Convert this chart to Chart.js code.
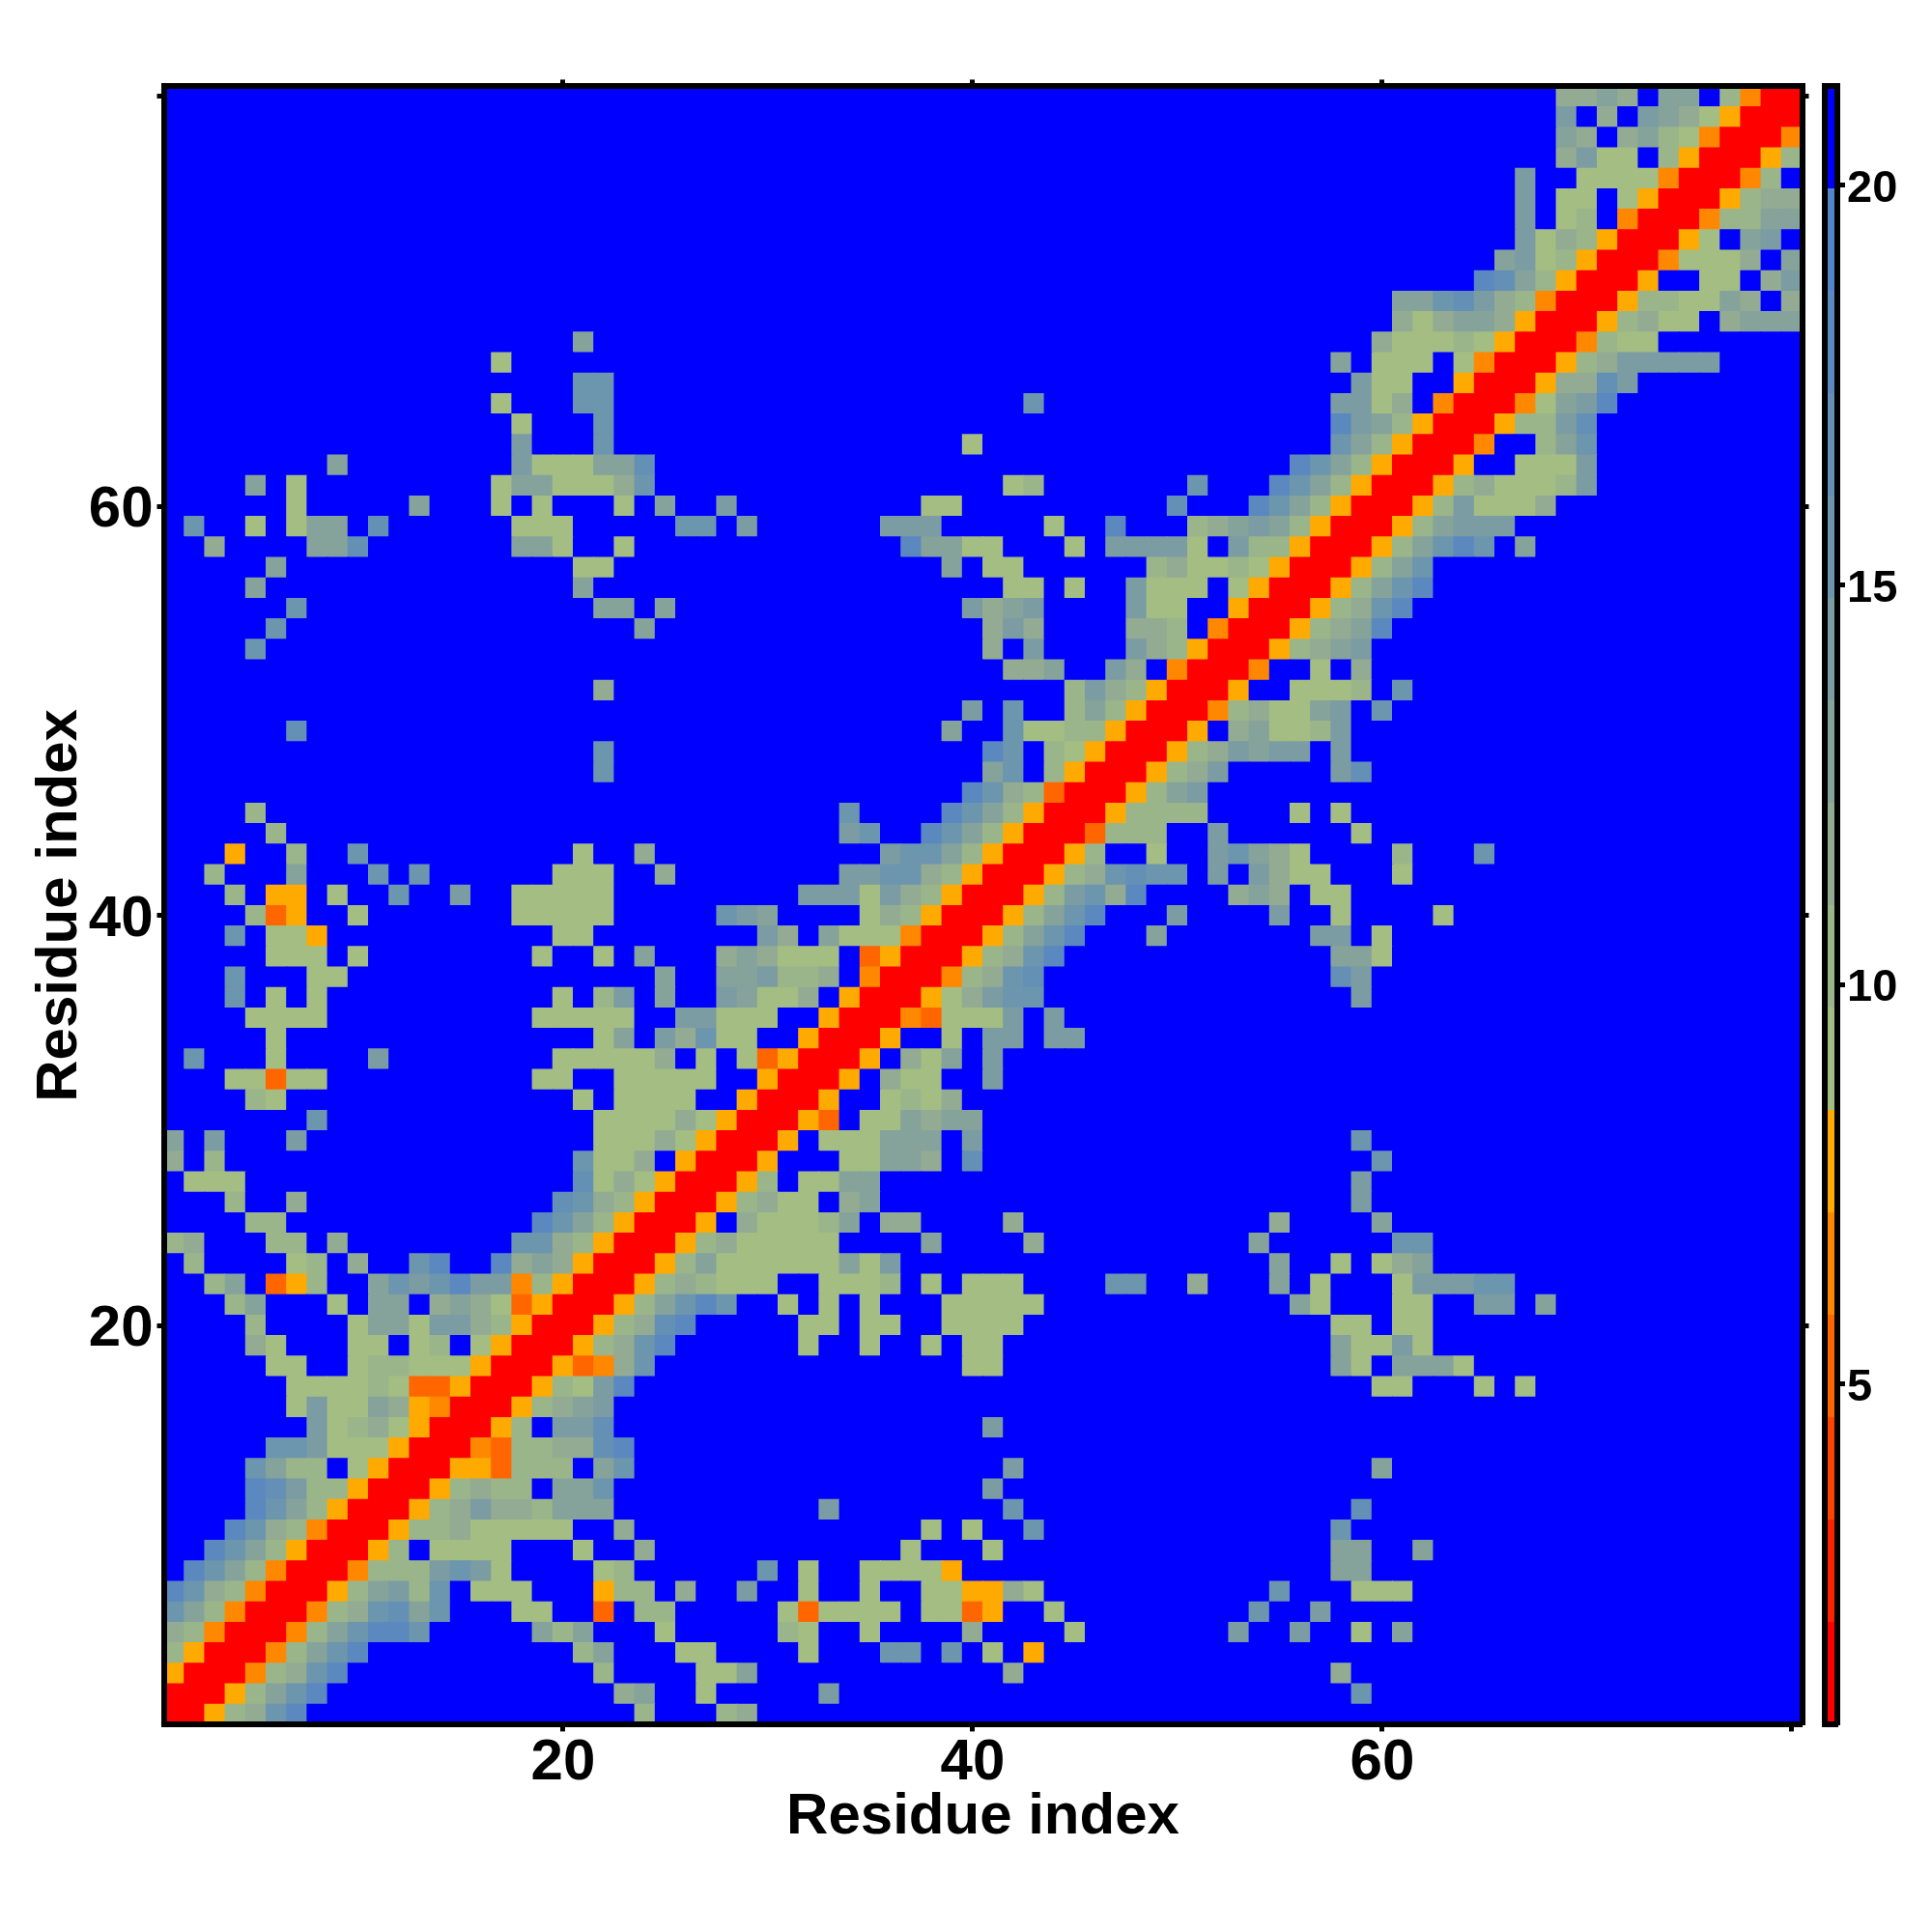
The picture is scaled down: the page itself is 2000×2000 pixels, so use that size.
<!DOCTYPE html>
<html>
<head>
<meta charset="utf-8">
<title>Residue contact map</title>
<script src="https://cdn.jsdelivr.net/npm/chart.js@4/dist/chart.umd.js"></script>
<style>
html,body{margin:0;padding:0;background:#fff;}
#wrap{position:relative;width:2000px;height:2000px;}
canvas{position:absolute;left:0;top:0;}
</style>
</head>
<body>
<div id="wrap"><canvas id="map" width="2000" height="2000"></canvas><canvas id="bar" width="2000" height="2000"></canvas></div>
<script>
// Residue indices on each axis
const residueCount = 80;
// Contact map, one entry per row from residue 80 down to residue 1.
// "col:codes" = codes starting at that column; '.' and unlisted cells are the far (blue) level.
const mapRows = [
"69:3343.44.2oRR",
"69:5.3.5431ORRR",
"69:43.3421oRRRo",
"69:3511.2ORRRO2",
"67:5 70:1111oRRRo2",
"67:5.11.1ORRRO233",
"67:5.12.oRRRo2244",
"67:5132ORRRO1.45",
"66:4512ORRRo1113.4",
"65:8742ORRRO..11.35",
"61:4467532oRRRO221143.3",
"61:313443ORRRO2311.3444",
"21:4 60:311121ORRRo211",
"17:1 58:4.111.1oRRRO2355555",
"21:66 59:511..ORRRO3375",
"17:1 21:66 43:6 58:5513.oRRRo1458",
"18:1 22:6 58:8542ORRRO2257",
"18:5 22:6 40:1 58:642ORRRo..246",
"9:4 18:5111447 56:8642ORRRO..1115",
"5:4.1 17:14411136 42:12 51:6 55:8642ORRRO2311125",
"7:1 13:4 17:1.1 23:1 25:4 28:5 38:11 50:7 54:8642ORRRO251113",
"2:6 5:1 7:144 11:7 18:111 26:66 29:5 36:555 44:1 47:8 51:234542ORRRO24555",
"3:3 8:447 18:441 23:1 37:84411 45:1 47:55551.52 55:2ORRRO24686.4",
"6:4 21:11 39:4.11 49:231121ORRRO246",
"5:4 21:4 42:11.1 48:5111.1ORRRO2468",
"7:6 22:44.4 40:5345 48:511..ORRRO2368",
"6:6 24:4 41:353 48:332.oRRRO2348",
"5:6 41:3.5 48:532ORRRO2345",
"42:334 47:53.oRRRo..1.3",
"22:3 45:2532ORRRO..1112.6",
"40:5.6 45:242ORRRo231145.6",
"7:7 39:4 42:61122ORRRO.341125",
"22:6 41:86.21ORRRO235455.5",
"22:6 41:46.2ORRRO235 58:57",
"40:8632dRRRO245",
"5:2 34:6 39:8642ORRRO2222 56:1.1",
"6:2 34:56 38:8642ORRRd222 52:5 59:1",
"4:O 7:2 10:6 21:1 24:3 36:56642ORRRO2..1..56431 61:2 65:6",
"3:2 7:4 11:6.6 20:111 25:3 34:556632ORRRO236766.5.5311 61:1",
"4:2.OO.1 12:6 15:5 18:11111 32:5551532ORRRO25638 53:343.11",
"5:2dO 10:1 18:11111 28:654 35:132ORRRO2468 50:5 55:5 58:1 63:1",
"4:6.11O 20:11 30:53.4111oRRRO2468 49:4 57:55.1",
"6:111.1 19:1 22:1 24:4 28:343111.dORRRO2368 58:441",
"4:6 8:11 25:4 28:445223.oRRRo2367 58:75",
"4:6.1.1 20:1.25 25:4 28:54113.ORRRO13566 59:5",
"5:1111 19:11111 26:55111..ORRRod1115.5",
"6:1 22:14 25:53611..ORRRO..1.55.55",
"2:6 6:1 11:5 20:111113.1.1dORRRO.314.5",
"4:11d11 19:11..11111..ORRRO.311..5",
"5:21 21:1.1111..ORRRO..1213",
"8:6 22:111131ORRROd.114344",
"1:4.5 7:5 22:11131ORRRO.111444.5 59:6",
"1:3.2 21:6113.ORRRO...11443.7 60:6",
"2:111 21:7131ORRRO2.1144 59:5",
"4:2 7:3 20:7632ORRRO2311.34 59:5",
"5:22 19:8642ORRRO.311124.33 42:3 55:3 60:4",
"1:23 6:22.3 18:6632ORRRO2311111 38:4 43:3 54:4 61:66",
"2:2 7:12.3 13:68 17:8343ORRRO24111111415 55:4 58:1.134",
"3:24.dO2 11:4656855o2ORRRO232111..1112.1.111 47:66 51:3 55:4.1 61:155566",
"4:24 9:1 11:44.3431dORRRO24686 31:1.1.1 39:11111 56:41 61:11 65:55.4",
"5:2 10:14415532ORRRO2378 32:11.11 39:1111 58:11.11",
"5:31 10:11.12.1ORRRO2368 32:1 35:1 38:1.11 58:41151",
"6:11 10:122111ORRROdo36 40:11 58:41.4441",
"7:111121ddORRRO2158 60:11 65:1.1",
"7:151143OoRRRO2345",
"8:51231ORRRO2.557 41:5",
"6:665111ORRRod223378",
"5:6422.1ORRROOd222.46 42:5 60:4",
"5:87522ORRRO2322.446 41:5",
"5:8642ORRRO235332444 33:5 42:6 59:7",
"4:8632oRRRO22311111..3 38:1.1 43:6 58:6",
"3:8642ORRRO2.1111...1..3 37:1 41:1 58:44 62:4",
"2:8642oRRRo2225651....12 30:6.1 35:1111O 58:44",
"1:8632oRRRO24526.111...O22.3 29:5 32:1 35:1 38:11OO31 55:6 59:111",
"1:642oRRRo236746...11..d.22 31:1d1111.11dO 44:1 54:6 57:5",
"1:32oRRRo246886.....424 25:1 31:21 35:1 40:3 45:1 53:5 56:5 59:1.4",
"1:2ORRRo2468 21:24 26:11 32:1 36:66.6.1.O",
"1:ORRRo2368 22:2 27:114 42:3 58:3",
"1:RRRO2468 23:34 27:1 33:5 59:6",
"1:RRO2368 24:2 28:23"
];
const codeDistance = {R:1.4,d:5.2,o:6.5,O:7.8,"1":9.1,"2":10.4,"3":11.6,"4":12.9,"5":14.2,"6":15.5,"7":16.8,"8":18.1,".":20.6};
// Colour key: band colours from low to high and the value range
const bandColors = ["#ff0000","#ff2200","#ff4400","#ff6600","#ff8800","#ffaa00","#a3bd83","#9bb58a","#92ab92","#85a39a","#7b9ca3","#6c95ae","#6590b5","#5a88bf","#5184c9","#0000ff"];
const keyMin = 0.74;
const keyMax = 21.24;
// Tick labels
const xTickValues = [20,40,60,80];
const topTickValues = [20,40,60];
const yTickValues = [20,40,60,80];
const keyTickValues = [5,10,15,20];
const axisTitle = "Residue index";
const fontFamily = "'Liberation Sans', Arial, sans-serif";

function decodeRow(text, rowNumber, out) {
  const cells = new Array(residueCount).fill(codeDistance["."]);
  text.split(" ").forEach(seg => {
    const [start, codes] = seg.split(":");
    [...codes].forEach((c, i) => { cells[Number(start) - 1 + i] = codeDistance[c]; });
  });
  cells.forEach((v, i) => out.push({x: i + 1, y: rowNumber, v}));
}
const cells = [];
mapRows.forEach((t, i) => decodeRow(t, residueCount - i, cells));

const bandWidth = (keyMax - keyMin) / bandColors.length;
function colorFor(v) {
  const k = Math.max(0, Math.min(bandColors.length - 1, Math.floor((v - keyMin) / bandWidth)));
  return bandColors[k];
}
function fixedTicks(values) { return scale => { scale.ticks = values.map(value => ({value})); }; }

// Page layout of the plot frame
const frame = {left:169.5, right:134.5, top:89.4, bottom:214.6};

const gridOpts = {drawOnChartArea:false, color:"#000", tickColor:"#000", tickWidth:5, tickLength:7};
const borderOpts = {display:true, color:"#000", width:6, z:1};
const labelFont = {family:fontFamily, weight:"bold", size:60};
const titleFont = {family:fontFamily, weight:"bold", size:60};

new Chart(document.getElementById("map"), {
  type: "scatter",
  data: {datasets: [{
    data: cells,
    pointStyle: "rect",
    pointBorderWidth: 0,
    pointRadius: c => (c.chart.scales.x.width / residueCount / 2 + 0.5) * Math.SQRT2,
    pointBackgroundColor: c => colorFor(c.raw.v)
  }]},
  options: {
    responsive:false, animation:false, devicePixelRatio:1,
    layout:{padding:0},
    plugins:{legend:{display:false}, tooltip:{enabled:false}},
    events:[],
    scales:{
      x:{type:"linear", position:"bottom", min:0.5, max:80.5,
        afterBuildTicks:fixedTicks(xTickValues),
        afterFit:s=>{s.height=frame.bottom;},
        grid:gridOpts, border:borderOpts,
        ticks:{color:"#000", font:labelFont, padding:-3, maxRotation:0, autoSkip:false, callback:v=>v===80?"":String(v)},
        title:{display:true, text:axisTitle, color:"#000", font:titleFont, padding:{top:0,bottom:83}}},
      x2:{type:"linear", position:"top", min:0.5, max:80.5,
        afterBuildTicks:fixedTicks(topTickValues),
        afterFit:s=>{s.height=frame.top;},
        grid:gridOpts, border:borderOpts, ticks:{display:false}},
      y:{type:"linear", position:"left", min:0.5, max:80.5,
        afterBuildTicks:fixedTicks(yTickValues),
        afterFit:s=>{s.width=frame.left;},
        grid:gridOpts, border:borderOpts,
        ticks:{color:"#000", font:labelFont, padding:4, labelOffset:4, autoSkip:false, callback:v=>v===80?"":String(v)},
        title:{display:true, text:axisTitle, color:"#000", font:titleFont, padding:{top:26,bottom:0}}},
      y2:{type:"linear", position:"right", min:0.5, max:80.5,
        afterBuildTicks:fixedTicks(yTickValues),
        afterFit:s=>{s.width=frame.right;},
        grid:gridOpts, border:borderOpts, ticks:{display:false}}
    }
  }
});

// Colour key
const keyFrame = {left:1889, right:98};
new Chart(document.getElementById("bar"), {
  type: "bar",
  data: {
    labels:["key"],
    datasets: bandColors.map((color,i)=>({
      data:[[keyMin+i*bandWidth, keyMin+(i+1)*bandWidth]],
      backgroundColor:color, borderWidth:0, barPercentage:1, categoryPercentage:1, grouped:false,
      xAxisID:"cx", yAxisID:"cy"
    }))
  },
  options:{
    responsive:false, animation:false, devicePixelRatio:1,
    layout:{padding:0},
    plugins:{legend:{display:false}, tooltip:{enabled:false}},
    events:[],
    scales:{
      cx:{type:"category", position:"bottom", afterFit:s=>{s.height=frame.bottom;},
        grid:{display:false}, border:borderOpts, ticks:{display:false}},
      cxTop:{type:"linear", position:"top", afterFit:s=>{s.height=frame.top;},
        grid:{display:false}, border:borderOpts, ticks:{display:false}},
      cyLeft:{type:"linear", position:"left", afterFit:s=>{s.width=keyFrame.left;},
        grid:{display:false}, border:borderOpts, ticks:{display:false}},
      cy:{type:"linear", position:"right", min:keyMin, max:keyMax,
        afterBuildTicks:fixedTicks(keyTickValues),
        afterFit:s=>{s.width=keyFrame.right;},
        grid:{drawOnChartArea:false, color:"#000", tickColor:"#000", tickWidth:5, tickLength:8},
        border:borderOpts,
        ticks:{color:"#000", font:{family:fontFamily, weight:"bold", size:47}, padding:2, labelOffset:4, autoSkip:false, callback:v=>String(v)}}
    }
  }
});
</script>
</body>
</html>
